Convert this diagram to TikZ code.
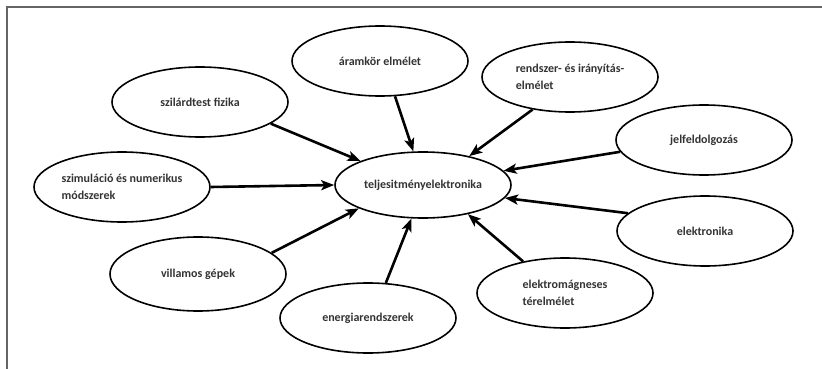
\documentclass[tikz,border=0pt]{standalone}
\usepackage{fontspec}
\setmainfont{Carlito}
\usetikzlibrary{arrows.meta,shapes.geometric}

\begin{document}
\begin{tikzpicture}[x=1pt, y=-1pt, >={Stealth[length=13pt,width=10pt,inset=3pt]},
	topic/.style={draw, ellipse, line width=1.6pt, minimum width=176pt, minimum height=70pt, inner sep=0pt, align=left, text=black!80, font=\fontsize{12}{17}\selectfont\bfseries},
	link/.style={->, line width=2.6pt}]
	\useasboundingbox (0,0) rectangle (822,369);
	\draw[line width=1.5pt, black!60] (822,7) -- (7,7) -- (7,369);
	\node[topic, minimum height=66pt] (telj) at (423,185) {teljesitményelektronika};
	\node[topic] (aram) at (380,61) {áramkör elmélet};
	\node[topic] (rendszer) at (570,77) {rendszer- és irányítás-\\elmélet};
	\node[topic] (szilard) at (200,102) {szilárdtest fizika};
	\node[topic] (jel) at (704,140) {jelfeldolgozás};
	\node[topic] (szim) at (122,187) {szimuláció és numerikus\\módszerek};
	\node[topic] (elektr) at (705,231) {elektronika};
	\node[topic, minimum height=74pt] (villamos) at (198,274) {villamos gépek};
	\node[topic] (energia) at (368,318) {energiarendszerek};
	\node[topic] (emt) at (565,293) {elektromágneses\\térelmélet};
	\draw[link] (aram.-67) -- (telj.106);
	\draw[link] (rendszer.-139) -- (telj.32);
	\draw[link] (szilard.-17) -- (telj.159);
	\draw[link] (jel.188) -- (telj.10);
	\draw[link] (szim.0) -- (telj.180);
	\draw[link] (elektr.167) -- (telj.-9);
	\draw[link] (villamos.16) -- (telj.-160);
	\draw[link] (energia.63) -- (telj.-109);
	\draw[link] (emt.143) -- (telj.-33);
\end{tikzpicture}
\end{document}
